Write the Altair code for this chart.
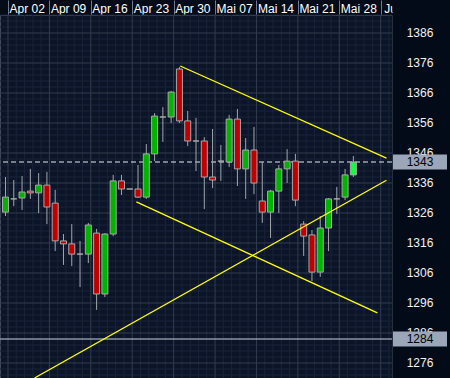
import json
import altair as alt
import numpy as np
import pandas as pd

# ---------------- data ----------------
week_labels = ["Apr 02", "Apr 09", "Apr 16", "Apr 23", "Apr 30",
               "Mai 07", "Mai 14", "Mai 21", "Mai 28", "Jun 04"]

opens = [1326.3, 1330.7, 1331.0, 1333.3, 1332.7, 1335.3, 1329.3, 1316.7, 1315.7, 1312.3,
         1312.3, 1319.3, 1299.0, 1319.0, 1336.7, 1334.0, 1334.0, 1331.3, 1345.7, 1358.0,
         1358.0, 1374.0, 1356.7, 1350.0, 1350.0, 1338.0, 1343.3, 1343.0, 1357.3, 1340.7,
         1347.0, 1330.0, 1326.3, 1333.3, 1340.7, 1343.3, 1322.3, 1318.7, 1306.3, 1321.0,
         1330.7, 1331.3, 1338.7]
highs = [1338.0, 1337.0, 1338.3, 1340.7, 1339.3, 1339.7, 1333.7, 1319.0, 1322.3, 1316.7,
         1322.7, 1320.7, 1319.3, 1338.7, 1338.7, 1334.0, 1342.0, 1349.0, 1359.3, 1361.3,
         1366.7, 1374.7, 1360.0, 1357.7, 1351.3, 1354.0, 1348.7, 1358.7, 1360.7, 1351.0,
         1354.7, 1343.0, 1333.7, 1342.0, 1347.3, 1345.7, 1323.3, 1320.3, 1325.0, 1331.0,
         1334.7, 1340.7, 1345.0]
lows = [1325.0, 1328.3, 1327.0, 1330.7, 1326.0, 1322.3, 1313.3, 1308.7, 1308.3, 1301.3,
        1309.3, 1293.7, 1298.0, 1318.3, 1332.0, 1334.0, 1331.0, 1330.7, 1343.3, 1349.7,
        1356.0, 1356.0, 1348.3, 1340.0, 1327.3, 1334.3, 1336.7, 1341.3, 1335.0, 1330.7,
        1332.3, 1322.7, 1317.7, 1326.0, 1336.0, 1328.3, 1311.7, 1303.3, 1304.7, 1313.3,
        1325.7, 1330.3, 1338.0]
closes = [1331.3, 1330.7, 1333.0, 1332.7, 1335.3, 1328.0, 1316.7, 1315.7, 1312.3, 1312.3,
          1322.0, 1299.0, 1319.0, 1336.7, 1334.0, 1334.0, 1331.3, 1345.7, 1358.3, 1358.0,
          1366.3, 1356.7, 1350.0, 1350.0, 1338.0, 1337.0, 1343.3, 1357.3, 1340.7, 1347.0,
          1336.0, 1326.3, 1333.3, 1340.7, 1343.3, 1330.3, 1318.3, 1306.3, 1321.0, 1330.7,
          1330.7, 1338.7, 1343.0]

price_ticks = list(range(1276, 1387, 10))
last_price = 1343
support_price = 1284

trend_names = ["upper", "upper", "lower", "lower", "rising", "rising"]
trend_slots = [21.1, 46.0, 15.8, 44.9, 3.5, 46.0]
trend_prices = [1375.0, 1344.3, 1329.7, 1292.7, 1271.0, 1336.9]

# ---------------- styling ----------------
FONT = "Liberation Sans"
BG = "#030b19"
PLOT_BG = "#0c1527"
MINOR = "#19233a"
MAJOR = "#313c4e"

n = len(opens)
candles = pd.DataFrame({"slot": np.arange(n), "open": opens, "high": highs,
                        "low": lows, "close": closes})
kind = np.where(candles.close > candles.open, "up",
                np.where(candles.close < candles.open, "down", "flat")).astype(object)
kind[-1] = "last"
candles["kind"] = kind

xscale = alt.Scale(domain=[-0.06, 46.06], nice=False, zero=False)
yscale = alt.Scale(domain=[1271, 1392], nice=False, zero=False)

labels_js = json.dumps(week_labels)
week_seps = [5 * k + 0.3 for k in range(len(week_labels))]

x_axis = alt.Axis(orient="top", values=week_seps, grid=False, domain=True, zindex=0,
                  domainColor="#4a5566", ticks=True, tickSize=15, tickColor="#6e7a8c",
                  labelExpr=f"{labels_js}[round((datum.value - 0.3) / 5)]",
                  labelAlign="left", labelBaseline="alphabetic", labelPadding=-12,
                  labelOffset={"condition": {"test": "datum.value > 45", "value": 3},
                               "value": 1},
                  labelFont=FONT, labelFontSize=12, labelColor="#ffffff",
                  labelOverlap=False, labelFlush=False, title=None)


def X(field):
    return alt.X(f"{field}:Q", scale=xscale, axis=x_axis)


def Y(field):
    return alt.Y(f"{field}:Q", scale=yscale, axis=None)


minor_h = pd.DataFrame({"p": [p for p in range(1272, 1393, 2) if (p - 1276) % 10 != 0]})
major_h = pd.DataFrame({"p": price_ticks})
minor_v = pd.DataFrame({"s": [k + 0.3 for k in range(-1, 47) if k % 5 != 0]})
major_v = pd.DataFrame({"s": week_seps})

g_minor_h = alt.Chart(minor_h).mark_rule(color=MINOR, strokeWidth=1).encode(y=Y("p"))
g_major_h = alt.Chart(major_h).mark_rule(color=MAJOR, strokeWidth=1).encode(y=Y("p"))
g_minor_v = alt.Chart(minor_v).mark_rule(color=MINOR, strokeWidth=1).encode(x=X("s"))
g_major_v = alt.Chart(major_v).mark_rule(color=MAJOR, strokeWidth=1).encode(x=X("s"))

levels = pd.DataFrame({"p": [last_price, support_price], "kind": ["last", "support"]})
last_line = alt.Chart(levels[levels.kind == "last"]).mark_rule(
    color="#e4ebf3", strokeWidth=1, strokeDash=[5, 3]).encode(y=Y("p"))
support_line = alt.Chart(levels[levels.kind == "support"]).mark_rule(
    color="#c3ccd9", strokeWidth=1).encode(y=Y("p"))

wicks = alt.Chart(candles).mark_rule(color="#a3a7ad", strokeWidth=1).encode(
    x=X("slot"), y=Y("low"), y2="high")
bodies = alt.Chart(candles).mark_bar(size=6, stroke="#a8a8a8", strokeWidth=1).encode(
    x=X("slot"), y=Y("open"), y2="close",
    color=alt.Color("kind:N", legend=None,
                    scale=alt.Scale(domain=["up", "down", "flat", "last"],
                                    range=["#00b400", "#c00000", "#a8a8a8", "#10ff40"])))

trends = pd.DataFrame({"line": trend_names, "slot": trend_slots, "p": trend_prices})
trend_lines = alt.Chart(trends).mark_line(color="#ffff00", strokeWidth=1.3).encode(
    x=X("slot"), y=Y("p"), detail="line:N")

# right price scale panel
panel = alt.Chart(pd.DataFrame({"a": [0]})).mark_rect(color=BG).encode(
    x=alt.value(392.5), x2=alt.value(450), y=alt.value(-15), y2=alt.value(363))
price_labels = alt.Chart(pd.DataFrame({"p": price_ticks})).mark_text(
    font=FONT, fontSize=12, color="#f2f2f2", align="center", baseline="middle").encode(
    x=alt.value(420), y=Y("p"), text=alt.Text("p:Q", format="d"))
boxes = alt.Chart(levels).mark_rect(color="#9ca6b9").encode(
    x=alt.value(393), x2=alt.value(447),
    y=alt.Y("lo:Q", scale=yscale, axis=None), y2="hi:Q").transform_calculate(
    lo="datum.p - 2.5", hi="datum.p + 2.5")
box_labels = alt.Chart(levels).mark_text(
    font=FONT, fontSize=12, color="#000000", align="center", baseline="middle").encode(
    x=alt.value(420), y=Y("p"), text=alt.Text("p:Q", format="d"))

chart = alt.layer(
    g_minor_h, g_minor_v, g_major_h, g_major_v,
    support_line, last_line,
    wicks, bodies, trend_lines,
    panel, price_labels, boxes, box_labels,
).properties(
    width=392, height=363,
    padding={"left": 0, "top": 15, "right": 58, "bottom": 0},
    autosize=alt.AutoSizeParams(type="none"),
    background=BG,
).configure_view(fill=PLOT_BG, stroke="#4a5566", strokeWidth=1)

chart.save("out.html", embed_options={"renderer": "svg", "actions": False})
